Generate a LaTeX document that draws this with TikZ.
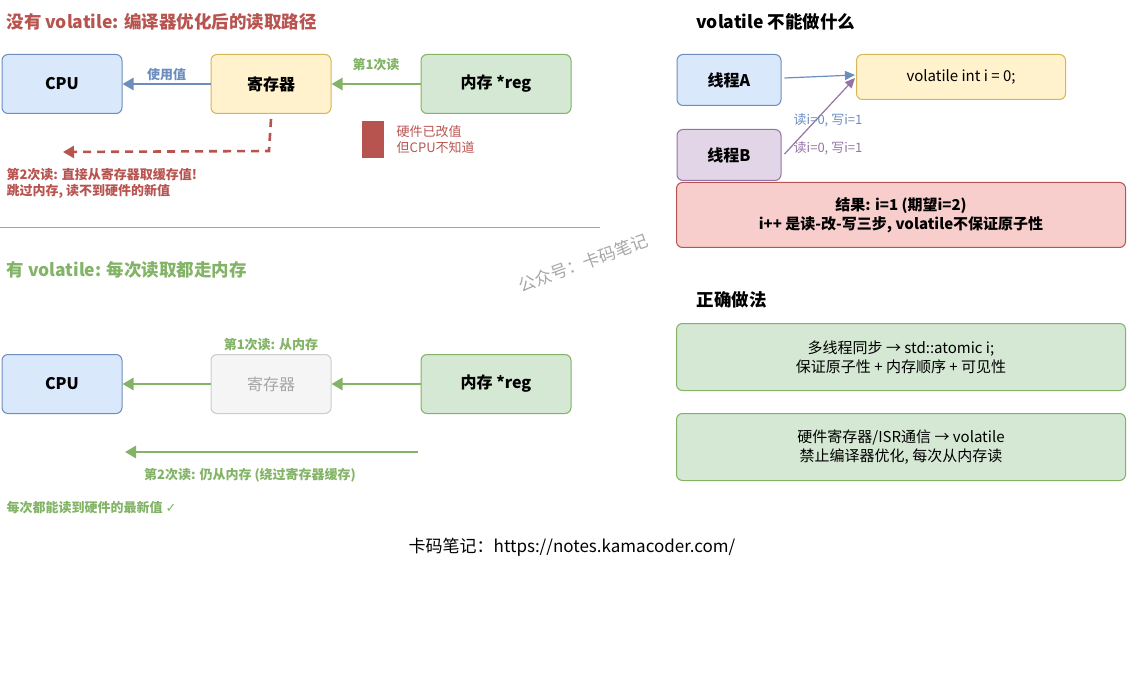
\documentclass[tikz,border=0pt]{standalone}
\usepackage{fontspec}
\setmainfont{Noto Sans CJK SC}
\usetikzlibrary{arrows.meta,positioning}
\definecolor{bluefill}{HTML}{DAE8FC}\definecolor{bluedraw}{HTML}{6C8EBF}
\definecolor{yelfill}{HTML}{FFF2CC}\definecolor{yeldraw}{HTML}{D6B656}
\definecolor{grnfill}{HTML}{D5E8D4}\definecolor{grndraw}{HTML}{82B366}
\definecolor{redfill}{HTML}{F8CECC}\definecolor{reddraw}{HTML}{B85450}
\definecolor{purfill}{HTML}{E1D5E7}\definecolor{purdraw}{HTML}{9673A6}
\definecolor{gryfill}{HTML}{F5F5F5}\definecolor{grydraw}{HTML}{CCCCCC}
\tikzset{
  box/.style={draw, rounded corners=6pt, line width=1pt, minimum height=59pt, align=center, font=\fontsize{16}{19}\selectfont\bfseries},
  note/.style={font=\fontsize{13}{16}\selectfont, align=left},
  bnote/.style={font=\fontsize{13}{16}\selectfont\bfseries, align=left},
  head/.style={font=\fontsize{17.5}{21}\selectfont\bfseries, anchor=west},
  flow/.style={-{Triangle[length=11pt,width=12pt]}, line width=2.6pt}
}
\begin{document}
\begin{tikzpicture}[x=1pt,y=-1pt]
		\useasboundingbox (0,0) rectangle (1130,695);
		% without volatile
		\node[head, text=reddraw] (t1) at (3,22) {没有 volatile: 编译器优化后的读取路径};
		\node[box, fill=bluefill, draw=bluedraw, minimum width=120pt] (cpu1) at (62,84) {CPU};
		\node[box, fill=yelfill, draw=yeldraw, minimum width=120pt] (reg1) at (271,84) {寄存器};
		\node[box, fill=grnfill, draw=grndraw, minimum width=150pt] (mem1) at (496,84) {内存 *reg};
		\draw[flow, grndraw] (mem1) -- (reg1) node[midway, above=8pt, bnote, text=grndraw] {第1次读};
		\draw[flow, bluedraw] (reg1) -- (cpu1) node[midway, above=-1pt, bnote, text=bluedraw] {使用值};
		\coordinate (d1) at (63,152);
		\draw[flow, reddraw, dashed, dash pattern=on 8pt off 6pt] (reg1.south) ++(0,5) -- ++(-2,32) -- (d1);
		\node[bnote, text=reddraw, anchor=north west] (n2) at (3,165) {第2次读: 直接从寄存器取缓存值!\\跳过内存, 读不到硬件的新值};
		\node[fill=reddraw, minimum width=22pt, minimum height=37pt, inner sep=0pt] (hw) at (373,140) {};
		\node[note, text=reddraw, right=9pt of hw] (hwt) {硬件已改值\\但CPU不知道};
		\draw[grydraw!80!black, line width=0.6pt] (0,227) -- (600,227);
		% with volatile
		\node[head, text=grndraw] (t2) at (3,270) {有 volatile: 每次读取都走内存};
		\node[box, fill=bluefill, draw=bluedraw, minimum width=120pt] (cpu2) at (62,384) {CPU};
		\node[box, fill=gryfill, draw=grydraw, text=gray!70, font=\fontsize{16}{19}\selectfont, minimum width=120pt] (reg2) at (271,384) {寄存器};
		\node[box, fill=grnfill, draw=grndraw, minimum width=150pt] (mem2) at (496,384) {内存 *reg};
		\node[bnote, text=grndraw, above=0pt of reg2] (r1) {第1次读: 从内存};
		\draw[flow, grndraw] (mem2) -- (reg2);
		\draw[flow, grndraw] (reg2) -- (cpu2);
		\coordinate (s2a) at (418,452); \coordinate (s2b) at (125,452);
		\draw[flow, grndraw] (s2a) -- (s2b);
		\node[bnote, text=grndraw] (r2) at (250,475) {第2次读: 仍从内存 (绕过寄存器缓存)};
		\node[bnote, text=grndraw, anchor=west] (ok) at (3,508) {每次都能读到硬件的最新值 {\fontspec{DejaVu Sans}✓}};
		% right side
		\node[head] (t3) at (693,22) {volatile 不能做什么};
		\node[box, fill=bluefill, draw=bluedraw, minimum width=104pt, minimum height=51pt] (ta) at (729,80) {线程A};
		\node[box, fill=purfill, draw=purdraw, minimum width=104pt, minimum height=51pt] (tb) at (729,155) {线程B};
		\node[box, fill=yelfill, draw=yeldraw, minimum width=209pt, minimum height=45pt, font=\fontsize{15}{18}\selectfont] (var) at (961,77) {volatile int i = 0;};
		\coordinate (va) at (855,75); \coordinate (vb) at (855,78);
		\draw[-{Triangle[length=10pt,width=9pt]}, bluedraw, line width=1.2pt] (ta.east) ++(3,-2) -- (va);
		\draw[-{Triangle[length=10pt,width=9pt]}, purdraw, line width=1.2pt] (tb.east) ++(3,-1) -- (vb);
		\node[note, text=bluedraw] (la) at (828,120) {读i=0, 写i=1};
		\node[note, text=purdraw] (lb) at (828,148) {读i=0, 写i=1};
		\node[box, fill=redfill, draw=reddraw, minimum width=449pt, minimum height=65pt, font=\fontsize{15}{19}\selectfont\bfseries] (res) at (901,215) {结果: i=1 (期望i=2)\\i++ 是读-改-写三步, volatile不保证原子性};
		\node[head] (t4) at (693,300) {正确做法};
		\node[box, fill=grnfill, draw=grndraw, minimum width=449pt, minimum height=67pt, font=\fontsize{15}{19}\selectfont] (f1) at (901,357) {多线程同步 → std::atomic i;\\保证原子性 + 内存顺序 + 可见性};
		\node[box, fill=grnfill, draw=grndraw, minimum width=449pt, minimum height=67pt, font=\fontsize{15}{19}\selectfont] (f2) at (901,447) {硬件寄存器/ISR通信 → volatile\\禁止编译器优化, 每次从内存读};
		\node[text=gray!70, rotate=20, font=\fontsize{17}{20}\selectfont] (wm) at (583,263) {公众号：卡码笔记};
		\node[font=\fontsize{17}{20}\selectfont] (foot) at (572,547) {卡码笔记：https://notes.kamacoder.com/};
\end{tikzpicture}
\end{document}
